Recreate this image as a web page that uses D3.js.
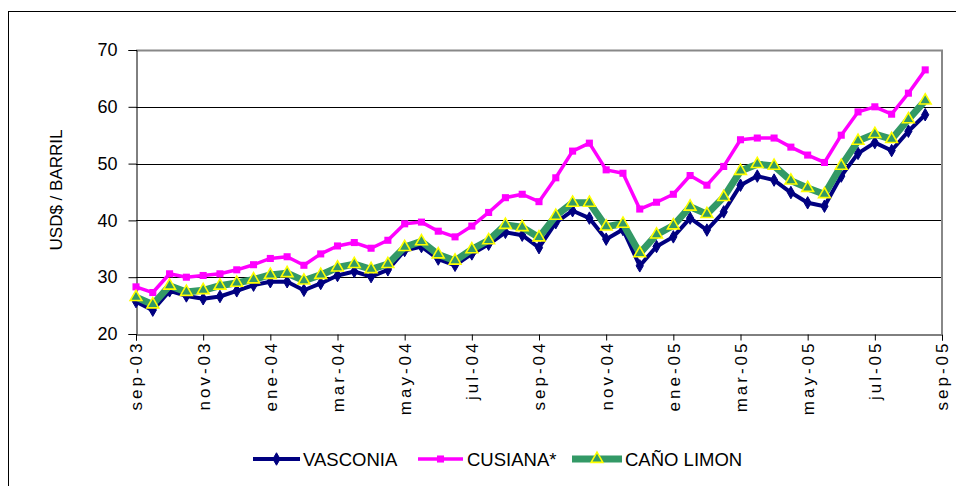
<!DOCTYPE html>
<html><head><meta charset="utf-8">
<script src="https://cdn.jsdelivr.net/npm/d3@7"></script>
<style>
html,body{margin:0;padding:0;background:#fff;}
svg{display:block;font-family:"Liberation Sans",Arial,sans-serif;}
</style></head>
<body><svg id="c" width="956" height="486"></svg>
<script>
// ---- data (semi-monthly points, sep-03 .. aug-05) ----
const tickLabels = ["sep-03","nov-03","ene-04","mar-04","may-04","jul-04","sep-04","nov-04","ene-05","mar-05","may-05","jul-05","sep-05"];
const yTicks = [20,30,40,50,60,70];
const seriesNames = ["VASCONIA","CUSIANA*","CAÑO LIMON"];
const vasconia = [25.7,24.2,27.6,26.7,26.2,26.6,27.6,28.6,
  29.2,29.2,27.7,28.9,30.3,31.0,30.1,31.3,
  34.7,35.4,33.2,32.1,34.1,35.8,37.9,37.4,
  35.2,39.6,41.7,40.4,36.7,38.4,32.0,35.4,
  37.1,40.4,38.3,41.5,46.2,47.8,47.1,44.9,
  43.1,42.5,47.8,51.8,53.7,52.3,55.7,58.6];
const cusiana = [28.3,27.3,30.6,30.0,30.3,30.6,31.3,32.2,
  33.3,33.6,32.1,34.1,35.5,36.1,35.1,36.5,
  39.4,39.7,38.1,37.1,39.0,41.4,44.0,44.6,
  43.3,47.5,52.2,53.6,48.9,48.3,42.0,43.2,
  44.6,47.9,46.2,49.5,54.2,54.5,54.5,52.9,
  51.5,50.2,55.0,59.1,60.0,58.7,62.4,66.5];
const canoLimon = [26.5,25.2,28.5,27.4,27.7,28.5,29.0,29.6,
  30.4,30.7,29.4,30.4,31.7,32.3,31.4,32.3,
  35.3,36.3,34.0,32.9,34.9,36.5,39.2,38.8,
  37.0,40.8,43.1,43.1,38.9,39.4,34.2,37.5,
  39.1,42.4,41.1,44.1,48.7,49.9,49.6,47.0,
  45.7,44.6,49.6,54.0,55.2,54.3,57.8,61.1];
const pointsPerTick = 4;

// ---- layout ----
const svg = d3.select("#c");
const L = 136, R = 942, T = 50, B = 334;
const x = d3.scaleLinear().domain([0, (tickLabels.length-1)*pointsPerTick]).range([L, R]);
const y = d3.scaleLinear().domain([20, 70]).range([B, T]);

// outer chart border
svg.append("rect").attr("x",8.5).attr("y",11.5).attr("width",960).attr("height",490)
  .attr("fill","none").attr("stroke","#000").attr("stroke-width",1);

// plot area
svg.append("rect").attr("x",L).attr("y",T).attr("width",R-L).attr("height",B-T).attr("fill","#fff");

// gridlines
svg.append("g").selectAll("line").data(yTicks.filter(v=>v>20 && v<70)).join("line")
  .attr("x1",L).attr("x2",R).attr("y1",d=>Math.round(y(d))+0.5).attr("y2",d=>Math.round(y(d))+0.5)
  .attr("stroke","#000").attr("stroke-width",1);
// plot border top/right
svg.append("path").attr("d",`M${L},${T+0.5}H${R}V${B}`).attr("fill","none").attr("stroke","#888").attr("stroke-width",2);

// y axis
const yAxis = d3.axisLeft(y).tickValues(yTicks).tickSize(8).tickPadding(11).tickFormat(d3.format("d"));
const gy = svg.append("g").attr("transform",`translate(${L+0.5},0)`).call(yAxis);
gy.select(".domain").attr("stroke","#000");
gy.selectAll(".tick line").attr("stroke","#000");
gy.selectAll("text").attr("font-size",18).attr("fill","#000").attr("font-family","Liberation Sans, Arial, sans-serif");

// x axis
const xAxis = d3.axisBottom(x).tickValues(d3.range(tickLabels.length).map(i=>i*pointsPerTick))
  .tickSize(6).tickFormat((d,i)=>tickLabels[i]);
const gx = svg.append("g").attr("transform",`translate(0,${B+0.5})`).call(xAxis);
gx.select(".domain").attr("stroke","#000");
gx.selectAll(".tick line").attr("stroke","#000");
gx.selectAll("text").attr("font-size",17).attr("fill","#000").attr("font-family","Liberation Sans, Arial, sans-serif")
  .attr("letter-spacing","3px")
  .attr("text-anchor","end").attr("transform","rotate(-90)").attr("x",-6).attr("y",0).attr("dy","0.35em");

// y title
svg.append("text").attr("transform",`translate(62,${(T+B)/2 - 2}) rotate(-90)`)
  .attr("text-anchor","middle").attr("font-size",17).attr("fill","#000").text("USD$ / BARRIL");

// series
const styles = [
  {data:vasconia, color:"#000080", width:4, sym:d3.symbolDiamond, size:45, fill:"#000080", stroke:"#000080", sw:1},
  {data:cusiana, color:"#FF00FF", width:3.5, sym:d3.symbolSquare, size:50, fill:"#FF00FF", stroke:"#FF00FF", sw:0},
  {data:canoLimon, color:"#339966", width:7, sym:d3.symbolTriangle, size:60, fill:"#339966", stroke:"#FFFF00", sw:1.6}
];
const line = d3.line().x((d,i)=>x(i)).y(d=>y(d));
styles.forEach(s=>{
  const g = svg.append("g");
  g.append("path").datum(s.data).attr("d",line).attr("fill","none")
    .attr("stroke",s.color).attr("stroke-width",s.width).attr("stroke-linejoin","round");
  g.selectAll("path.m").data(s.data).join("path").attr("class","m")
    .attr("transform",(d,i)=>`translate(${x(i)},${y(d)})`)
    .attr("d",d3.symbol().type(s.sym).size(s.size))
    .attr("fill",s.fill).attr("stroke",s.stroke).attr("stroke-width",s.sw);
});

// legend
const legendItems = [{x0:253,x1:300,tx:303},{x0:418,x1:463,tx:467},{x0:572,x1:622,tx:625}];
const ly = 459;
legendItems.forEach((it,k)=>{
  const s = styles[k];
  svg.append("line").attr("x1",it.x0).attr("x2",it.x1).attr("y1",ly).attr("y2",ly)
    .attr("stroke",s.color).attr("stroke-width",s.width);
  svg.append("path").attr("transform",`translate(${(it.x0+it.x1)/2},${ly})`)
    .attr("d",d3.symbol().type(s.sym).size(s.size)).attr("fill",s.fill).attr("stroke",s.stroke).attr("stroke-width",s.sw);
  svg.append("text").attr("x",it.tx).attr("y",ly).attr("dy","0.36em").attr("font-size",18.5)
    .attr("fill","#000").text(seriesNames[k]);
});
</script></body></html>
